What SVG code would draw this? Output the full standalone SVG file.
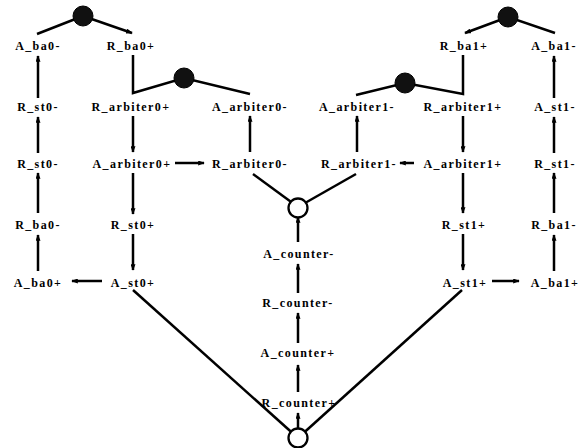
<svg xmlns="http://www.w3.org/2000/svg" width="578" height="448" viewBox="0 0 578 448">
<style>
.t{font-family:"Liberation Serif","Times New Roman",serif;font-size:12px;font-weight:bold;letter-spacing:1.4px;text-anchor:middle;fill:#000}
.c{stroke:#000;stroke-width:2.5;fill:none}
.a{stroke:#000;stroke-width:2.5;fill:none;marker-end:url(#ah)}
.bk{fill:#111;stroke:#000;stroke-width:1}
.wh{fill:#fff;stroke:#000;stroke-width:2.3}
</style>
<defs>
<marker id="ah" viewBox="0 0 8 6" refX="7" refY="3" markerWidth="7" markerHeight="5" orient="auto" markerUnits="userSpaceOnUse"><path d="M0,0 L8,3 L0,6 z" fill="#000"/></marker>
</defs>
<rect width="578" height="448" fill="#fff"/>
<g id="connectors">
<line class="c" x1="37" y1="34" x2="83" y2="16"/>
<line class="a" x1="83" y1="16" x2="132" y2="33"/>
<polyline class="c" points="133,55 133,93 184,78 250,94"/>
<polyline class="c" points="356,95 405,83 463,94 463,55"/>
<line class="a" x1="508" y1="17" x2="465" y2="33"/>
<line class="c" x1="508" y1="17" x2="555" y2="33"/>
<line class="a" x1="38" y1="98" x2="38" y2="56"/>
<line class="a" x1="38" y1="153" x2="38" y2="117"/>
<line class="a" x1="38" y1="213" x2="38" y2="173"/>
<line class="a" x1="38" y1="271" x2="38" y2="235"/>
<line class="a" x1="133" y1="116" x2="133" y2="152"/>
<line class="a" x1="133" y1="173" x2="133" y2="214"/>
<line class="a" x1="133" y1="234" x2="133" y2="270"/>
<line class="a" x1="175" y1="163" x2="204" y2="163"/>
<line class="a" x1="250" y1="152" x2="250" y2="116"/>
<line class="a" x1="357" y1="152" x2="357" y2="116"/>
<line class="a" x1="414" y1="163" x2="400" y2="163"/>
<line class="a" x1="463" y1="116" x2="463" y2="152"/>
<line class="a" x1="463" y1="173" x2="463" y2="213"/>
<line class="a" x1="463" y1="234" x2="463" y2="270"/>
<line class="a" x1="554" y1="98" x2="554" y2="56"/>
<line class="a" x1="554" y1="153" x2="554" y2="117"/>
<line class="a" x1="554" y1="213" x2="554" y2="173"/>
<line class="a" x1="554" y1="271" x2="554" y2="235"/>
<line class="a" x1="102" y1="281" x2="72" y2="281"/>
<line class="a" x1="492" y1="281" x2="519" y2="281"/>
<line class="c" x1="253" y1="174" x2="298" y2="207"/>
<line class="c" x1="356" y1="174" x2="298" y2="207"/>
<line class="a" x1="298" y1="242" x2="298" y2="217"/>
<line class="a" x1="298" y1="293" x2="298" y2="264"/>
<line class="a" x1="298" y1="343" x2="298" y2="313"/>
<line class="a" x1="298" y1="392" x2="298" y2="365"/>
<line class="a" x1="298" y1="428" x2="298" y2="413"/>
<line class="c" x1="133" y1="290" x2="298" y2="438"/>
<line class="c" x1="462" y1="290" x2="298" y2="438"/>
</g>
<g id="j1"><circle class="bk" cx="83" cy="16" r="10"/></g>
<g id="j2"><circle class="bk" cx="184" cy="78" r="10"/></g>
<g id="j3"><circle class="bk" cx="405" cy="83" r="10"/></g>
<g id="j4"><circle class="bk" cx="508" cy="17" r="10"/></g>
<g id="j5"><circle class="wh" cx="298" cy="208" r="9.5"/></g>
<g id="j6"><circle class="wh" cx="298" cy="438" r="9.5"/></g>
<g id="n_A_ba0m"><text class="t" x="38" y="50">A_ba0-</text></g>
<g id="n_R_ba0p"><text class="t" x="131" y="50">R_ba0+</text></g>
<g id="n_R_ba1p"><text class="t" x="464" y="50">R_ba1+</text></g>
<g id="n_A_ba1m"><text class="t" x="554" y="50">A_ba1-</text></g>
<g id="n_R_st0m_a"><text class="t" x="38" y="111">R_st0-</text></g>
<g id="n_R_arbiter0p"><text class="t" x="131" y="111">R_arbiter0+</text></g>
<g id="n_A_arbiter0m"><text class="t" x="250" y="111">A_arbiter0-</text></g>
<g id="n_A_arbiter1m"><text class="t" x="357" y="111">A_arbiter1-</text></g>
<g id="n_R_arbiter1p"><text class="t" x="463" y="111">R_arbiter1+</text></g>
<g id="n_A_st1m"><text class="t" x="555" y="111">A_st1-</text></g>
<g id="n_R_st0m_b"><text class="t" x="38" y="168">R_st0-</text></g>
<g id="n_A_arbiter0p"><text class="t" x="132" y="168">A_arbiter0+</text></g>
<g id="n_R_arbiter0m"><text class="t" x="250" y="168">R_arbiter0-</text></g>
<g id="n_R_arbiter1m"><text class="t" x="359" y="168">R_arbiter1-</text></g>
<g id="n_A_arbiter1p"><text class="t" x="463" y="168">A_arbiter1+</text></g>
<g id="n_R_st1m"><text class="t" x="555" y="168">R_st1-</text></g>
<g id="n_R_ba0m"><text class="t" x="38" y="229">R_ba0-</text></g>
<g id="n_R_st0p"><text class="t" x="133" y="229">R_st0+</text></g>
<g id="n_R_st1p"><text class="t" x="464" y="229">R_st1+</text></g>
<g id="n_R_ba1m"><text class="t" x="554" y="229">R_ba1-</text></g>
<g id="n_A_ba0p"><text class="t" x="38" y="287">A_ba0+</text></g>
<g id="n_A_st0p"><text class="t" x="133" y="287">A_st0+</text></g>
<g id="n_A_st1p"><text class="t" x="465" y="287">A_st1+</text></g>
<g id="n_A_ba1p"><text class="t" x="555" y="287">A_ba1+</text></g>
<g id="n_A_counterm"><text class="t" x="299" y="258">A_counter-</text></g>
<g id="n_R_counterm"><text class="t" x="298" y="307">R_counter-</text></g>
<g id="n_A_counterp"><text class="t" x="298" y="357">A_counter+</text></g>
<g id="n_R_counterp"><text class="t" x="299" y="407">R_counter+</text></g>
</svg>
